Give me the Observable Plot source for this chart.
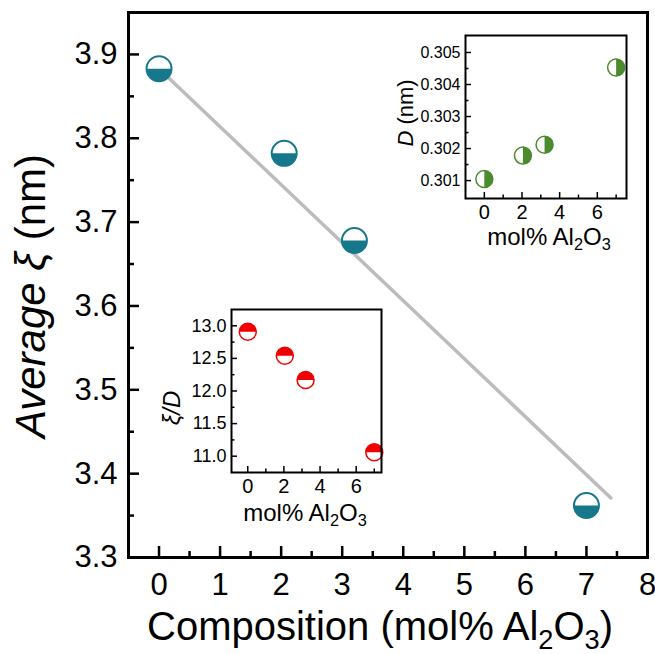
<!DOCTYPE html>
<html><head><meta charset="utf-8">
<script src="https://cdn.jsdelivr.net/npm/d3@7"></script>
<script src="https://cdn.jsdelivr.net/npm/@observablehq/plot@0.6"></script>
<style>
body{margin:0;background:#fff;}
#wrap{position:relative;width:655px;height:654px;font-family:"Liberation Sans",Arial,sans-serif;}
#wrap > svg{position:absolute;}
</style></head><body><div id="wrap"></div>
<script>
// ---- data ----
const composition = [0, 2.05, 3.2, 7.0];
const avgXi = [3.883, 3.782, 3.678, 3.362];
const diamD = [0.30105, 0.30178, 0.30212, 0.30453];
const xiOverD = [12.91, 12.54, 12.17, 11.06];
const fitX = [0, 7.4];
const fitY = [3.883, 3.371];

const mainXTicks = [0, 1, 2, 3, 4, 5, 6, 7, 8];
const mainXMinor = [0.5, 1.5, 2.5, 3.5, 4.5, 5.5, 6.5, 7.5];
const mainYTicks = [3.3, 3.4, 3.5, 3.6, 3.7, 3.8, 3.9];
const mainYMinor = [3.35, 3.45, 3.55, 3.65, 3.75, 3.85];

const insetXTicks = [0, 2, 4, 6];
const insetXMinor = [1, 3, 5, 7];
const dYTicks = [0.301, 0.302, 0.303, 0.304, 0.305];
const dYMinor = [0.3015, 0.3025, 0.3035, 0.3045];
const rYTicks = [11.0, 11.5, 12.0, 12.5, 13.0];
const rYMinor = [11.25, 11.75, 12.25, 12.75];

const TEAL = "#17788c", GREEN = "#4b8a2d", RED = "#f00000";
const FONT = "Liberation Sans, Arial, sans-serif";

// half-disc symbols
const halfBottom = {draw(c, s){const r=Math.sqrt(s/Math.PI); c.moveTo(r,0); c.arc(0,0,r,0,Math.PI); c.closePath();}};
const halfTop = {draw(c, s){const r=Math.sqrt(s/Math.PI); c.moveTo(-r,0); c.arc(0,0,r,Math.PI,2*Math.PI); c.closePath();}};
const halfRight = {draw(c, s){const r=Math.sqrt(s/Math.PI); c.moveTo(0,-r); c.arc(0,0,r,-Math.PI/2,Math.PI/2); c.closePath();}};

const rows = (xs, ys) => xs.map((x, i) => ({x, y: ys[i]}));
const wrap = document.getElementById("wrap");

function place(svg, left, top){ svg.style.left = left+"px"; svg.style.top = top+"px"; wrap.appendChild(svg); return svg; }

function addText(svg, x, y, parts, size, rotate){
  const t = d3.select(svg).append("text")
    .attr("transform", `translate(${x},${y})` + (rotate ? " rotate(-90)" : ""))
    .attr("text-anchor", "middle").attr("font-family", FONT).attr("font-size", size).attr("fill", "#000");
  for (const p of parts){
    const s = t.append("tspan").text(p.t);
    if (p.italic) s.attr("font-style", "italic");
    if (p.sub) s.attr("font-size", size*0.68).attr("dy", size*0.22);
    if (p.back) s.attr("dy", -size*0.22);
  }
  return t;
}

// ---- main chart ----
{
  const W = 655, H = 654, mL = 128, mR = 8, mT = 12, mB = 97;
  const pw = W - mL - mR, ph = H - mT - mB;
  const pts = rows(composition, avgXi);
  const svg = Plot.plot({
    width: W, height: H, marginLeft: mL, marginRight: mR, marginTop: mT, marginBottom: mB,
    style: {fontFamily: FONT, background: "transparent", overflow: "visible", color: "#000"},
    x: {domain: [-0.5, 8]}, y: {domain: [3.3, 3.95]},
    marks: [
      Plot.line(rows(fitX, fitY), {x: "x", y: "y", stroke: "#bcbcbc", strokeWidth: 3.5}),
      Plot.tickX(mainXTicks, {x: d => d, insetTop: ph - 11, stroke: "#000", strokeWidth: 2.5}),
      Plot.tickX(mainXMinor, {x: d => d, insetTop: ph - 6, stroke: "#000", strokeWidth: 2.5}),
      Plot.tickY(mainYTicks, {y: d => d, insetRight: pw - 11, stroke: "#000", strokeWidth: 2.5}),
      Plot.tickY(mainYMinor, {y: d => d, insetRight: pw - 6, stroke: "#000", strokeWidth: 2.5}),
      Plot.axisX(mainXTicks, {tickSize: 0, tickPadding: 15, fontSize: 31, label: null, tickFormat: d => d}),
      Plot.axisY(mainYTicks, {tickSize: 0, tickPadding: 11, fontSize: 31, label: null, tickFormat: d3.format(".1f")}),
      Plot.dot(pts, {x: "x", y: "y", r: 12.5, fill: "white", stroke: "none"}),
      Plot.dot(pts, {x: "x", y: "y", r: 12.5, symbol: halfBottom, fill: TEAL, stroke: "none"}),
      Plot.dot(pts, {x: "x", y: "y", r: 12.5, fill: "none", stroke: TEAL, strokeWidth: 2}),
      Plot.frame({stroke: "#000", strokeWidth: 3})
    ]
  });
  place(svg, 0, 0);
  addText(svg, 45, 296, [{t: "Average ", italic: true}, {t: "ξ", italic: true}, {t: " (nm)"}], 42, true);
  addText(svg, 380, 640, [{t: "Composition (mol% Al"}, {t: "2", sub: true}, {t: "O", back: true}, {t: "3", sub: true}, {t: ")", back: true}], 40, false);
}

// ---- inset builder ----
function inset({left, top, width, height, mL, mR, mT, mB, xDomain, yDomain, ys, yTicks, yMinor, yFmt, color, symbol, tickFont}){
  const pw = width - mL - mR, ph = height - mT - mB;
  const pts = rows(composition, ys);
  const svg = Plot.plot({
    width, height, marginLeft: mL, marginRight: mR, marginTop: mT, marginBottom: mB,
    style: {fontFamily: FONT, background: "transparent", overflow: "visible", color: "#000"},
    x: {domain: xDomain}, y: {domain: yDomain},
    marks: [
      Plot.tickX(insetXTicks, {x: d => d, insetTop: ph - 6, stroke: "#000", strokeWidth: 1.5}),
      Plot.tickX(insetXMinor, {x: d => d, insetTop: ph - 3.5, stroke: "#000", strokeWidth: 1.5}),
      Plot.tickY(yTicks, {y: d => d, insetRight: pw - 6, stroke: "#000", strokeWidth: 1.5}),
      Plot.tickY(yMinor, {y: d => d, insetRight: pw - 3.5, stroke: "#000", strokeWidth: 1.5}),
      Plot.axisX(insetXTicks, {tickSize: 0, tickPadding: 6, fontSize: 20, label: null, tickFormat: d => d}),
      Plot.axisY(yTicks, {tickSize: 0, tickPadding: 5, fontSize: tickFont, label: null, tickFormat: yFmt}),
      Plot.dot(pts, {x: "x", y: "y", r: 8.5, fill: "white", stroke: "none"}),
      Plot.dot(pts, {x: "x", y: "y", r: 8.5, symbol, fill: color, stroke: "none"}),
      Plot.dot(pts, {x: "x", y: "y", r: 8.5, fill: "none", stroke: color, strokeWidth: 1.5}),
      Plot.frame({stroke: "#000", strokeWidth: 2})
    ]
  });
  return place(svg, left, top);
}

// D inset (top right): frame 465..626 x 35..198
{
  const left = 380, top = 20, width = 260, height = 250;
  const svg = inset({left, top, width, height, mL: 465 - left, mR: left + width - 626, mT: 35 - top, mB: top + height - 198,
    xDomain: [-1, 7.55], yDomain: [0.30044, 0.30553], ys: diamD, yTicks: dYTicks, yMinor: dYMinor,
    yFmt: d3.format(".3f"), color: GREEN, symbol: halfRight, tickFont: 16});
  addText(svg, 413 - left, 113 - top, [{t: "D", italic: true}, {t: " (nm)"}], 22, true);
  addText(svg, 549 - left, 245 - top, [{t: "mol% Al"}, {t: "2", sub: true}, {t: "O", back: true}, {t: "3", sub: true}], 24, false);
}

// xi/D inset (bottom left): frame 231..381 x 309..472
{
  const left = 150, top = 300, width = 240, height = 240;
  const svg = inset({left, top, width, height, mL: 231 - left, mR: left + width - 381, mT: 309 - top, mB: top + height - 472,
    xDomain: [-0.9, 7.4], yDomain: [10.75, 13.25], ys: xiOverD, yTicks: rYTicks, yMinor: rYMinor,
    yFmt: d3.format(".1f"), color: RED, symbol: halfTop, tickFont: 18});
  addText(svg, 180 - left, 408 - top, [{t: "ξ/D", italic: true}], 24, true);
  addText(svg, 305 - left, 521 - top, [{t: "mol% Al"}, {t: "2", sub: true}, {t: "O", back: true}, {t: "3", sub: true}], 24, false);
}
</script>
</body></html>
